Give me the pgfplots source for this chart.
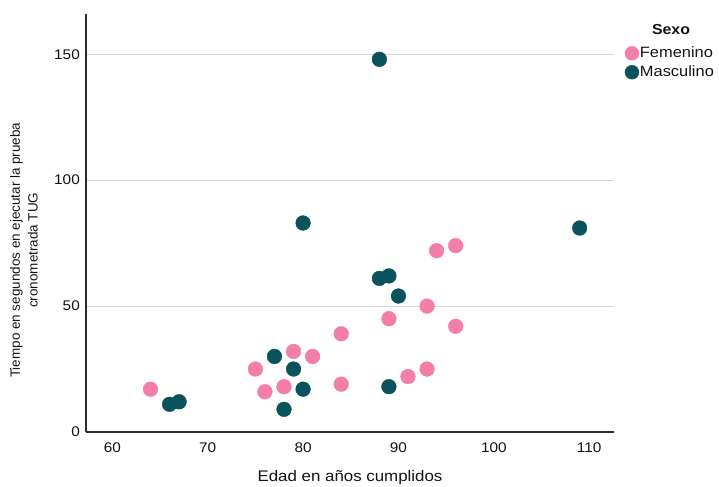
\documentclass[border=0pt]{standalone}
\usepackage{fontspec}
\setmainfont{Liberation Sans}[FakeStretch=1.1]
\newfontfamily\ylabfont{Liberation Sans}
\usepackage{pgfplots}
\pgfplotsset{compat=1.18}
\definecolor{fem}{RGB}{243,126,170}
\definecolor{mas}{RGB}{10,82,92}
\definecolor{axcol}{RGB}{45,45,45}
\definecolor{gridc}{RGB}{215,215,215}
\begin{document}
\begin{tikzpicture}
\path[use as bounding box] (-86bp,-55bp) rectangle (633bp,432bp);
\begin{axis}[
  scale only axis,
  width=528bp, height=418bp,
  xmin=57.24, xmax=112.6,
  ymin=0, ymax=166,
  axis lines*=left,
  axis line style={axcol, line width=1.9bp},
  xtick={60,70,80,90,100,110},
  ytick={0,50,100,150},
  major tick length=0pt,
  ymajorgrids,
  grid style={gridc, line width=0.9bp},
  /pgf/number format/assume math mode=true,
  xticklabel style={font=\fontsize{14}{16}\selectfont, anchor=center, inner sep=0pt, yshift=-15.7bp, text=black!92},
  yticklabel style={font=\fontsize{14}{16}\selectfont, anchor=east, inner sep=0pt, xshift=-6bp, text=black!92},
  xlabel={Edad en años cumplidos},
  xlabel style={font=\fontsize{15.4}{17}\selectfont, at={(axis description cs:0.5,-0.110)}, anchor=center, inner sep=0pt, text=black!92},
  ylabel={\ylabfont Tiempo en segundos en ejecutar la prueba\\\ylabfont cronometrada TUG},
  ylabel style={font=\fontsize{13.5}{18}\selectfont, at={(axis description cs:-0.1175,0.435)}, anchor=center, align=center, inner sep=0pt, rotate=0, text=black!92},
  legend style={at={(axis description cs:1.0208,0.9227)}, anchor=north west, draw=none, fill=none, inner sep=0pt, outer sep=0pt,
    font=\fontsize{15}{17}\selectfont, row sep=5bp,
    nodes={inner sep=0pt, text=black!92}},
  legend cell align=left,
  legend image code/.code={\draw[#1, mark size=7pt] plot coordinates {(7pt,0pt)};},
  /tikz/every odd column/.append style={column sep=1bp},
  clip=false,
]
\addplot[only marks, mark=*, mark size=7.4pt, color=fem, fill=fem] coordinates {
(64,17) (75,25) (76,16) (78,18) (79,32) (81,30) (84,39) (84,19)
(89,45) (93,50) (96,42) (94,72) (96,74) (91,22) (93,25)
};
\addlegendentry{Femenino}
\addplot[only marks, mark=*, mark size=7.4pt, color=mas, fill=mas] coordinates {
(88,148) (80,83) (109,81) (88,61) (89,62) (90,54) (77,30) (79,25)
(80,17) (78,9) (89,18) (66,11) (67,12)
};
\addlegendentry{Masculino}
\node[font=\bfseries\fontsize{14.5}{17}\selectfont, text=black!92, anchor=center] at (axis description cs:1.108,0.962) {Sexo};
\end{axis}
\end{tikzpicture}
\end{document}
